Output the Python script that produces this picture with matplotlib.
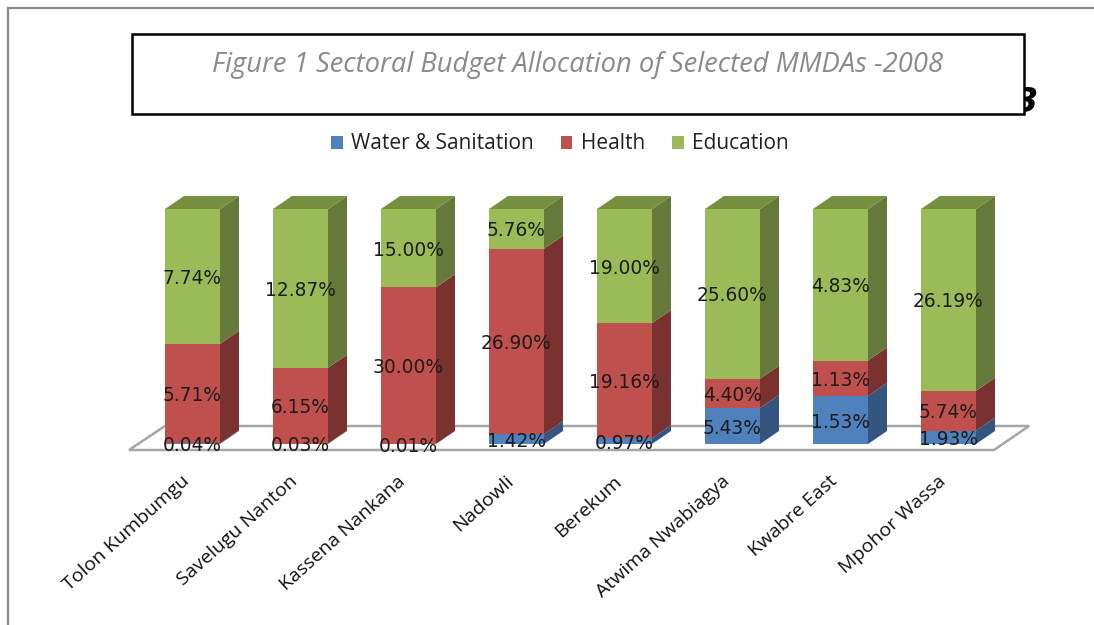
import matplotlib
matplotlib.use("Agg")
import matplotlib.pyplot as plt
from matplotlib.patches import Polygon, Rectangle
import numpy as np

categories = ["Tolon Kumbumgu", "Savelugu Nanton", "Kassena Nankana", "Nadowli",
              "Berekum", "Atwima Nwabiagya", "Kwabre East", "Mpohor Wassa"]
water = [0.04, 0.03, 0.01, 1.42, 0.97, 5.43, 1.53, 1.93]
health = [5.71, 6.15, 30.00, 26.90, 19.16, 4.40, 1.13, 5.74]
education = [7.74, 12.87, 15.00, 5.76, 19.00, 25.60, 4.83, 26.19]

series_names = ["Water & Sanitation", "Health", "Education"]
front_colors = ["#4F81BD", "#C0504D", "#9BBB59"]
side_colors = ["#33557F", "#7A3230", "#65793A"]
top_color = "#76903F"

W, H = 1094, 625
fig = plt.figure(figsize=(W / 100, H / 100), dpi=100, facecolor="white")
ax = fig.add_axes([0, 0, 1, 1])

# one category step is 108 px, 100% is 235 px tall
step, full = 108, 235
x0_px, base_px = 192.5, 444
ax.set_xlim(-x0_px / step, (W - x0_px) / step)
ax.set_ylim((base_px - H) / full * 100, base_px / full * 100)
ax.axis("off")

bar_w = 55 / step
dx, dy = 19 / step, 13 / full * 100


def px(x, y):
    return (x - x0_px) / step, (base_px - y) / full * 100


# floor of the 3d chart
floor = [px(129, 450), px(165, 426), px(1029, 426), px(994, 450)]
ax.add_patch(Polygon(floor, closed=True, fc="white", ec="#A6A6A6", lw=1.8, zorder=1))

values = np.array([water, health, education], dtype=float)
shares = values / values.sum(axis=0) * 100
xs = np.arange(len(categories))

bottom = np.zeros(len(categories))
for s in range(3):
    ax.bar(xs, shares[s], bottom=bottom, width=bar_w, color=front_colors[s], zorder=3)
    for i in xs:
        right = i + bar_w / 2
        b, t = bottom[i], bottom[i] + shares[s][i]
        ax.add_patch(Polygon([(right, b), (right + dx, b + dy), (right + dx, t + dy), (right, t)],
                             closed=True, fc=side_colors[s], ec="none", zorder=2.5))
    bottom += shares[s]

for i in xs:
    left, right = i - bar_w / 2, i + bar_w / 2
    ax.add_patch(Polygon([(left, 100), (right, 100), (right + dx, 100 + dy), (left + dx, 100 + dy)],
                         closed=True, fc=top_color, ec="none", zorder=2.5))

# value labels, centred on the front faces, a touch lower like the original
bottom = np.zeros(len(categories))
for s in range(3):
    for i in xs:
        ax.annotate(f"{values[s][i]:.2f}%", (i, bottom[i] + shares[s][i] / 2), xytext=(0, -1.5),
                    textcoords="offset points", ha="center", va="center",
                    fontsize=13.4, color="#1c1c1c", family="DejaVu Sans", zorder=5)
    bottom += shares[s]

# category labels
for i, name in enumerate(categories):
    ax.text(i - 0.105, px(0, 472)[1], name, rotation=42, rotation_mode="anchor", ha="right", va="top",
            fontsize=14, color="#111111", family="Open Sans", zorder=5)

# clipped glyph poking out behind the title box
fig.text(1027 / W, 1 - 112 / H, "3", fontsize=24, fontweight="bold", style="italic",
         color="black", ha="center", va="baseline", family="DejaVu Sans", zorder=0)

# outer frame
fig.add_artist(plt.Line2D([8 / W, 8 / W], [0, 1 - 8 / H], color="#8A8A8A", lw=1.6))
fig.add_artist(plt.Line2D([8 / W, 1], [1 - 8 / H, 1 - 8 / H], color="#8A8A8A", lw=1.6))

# title box
fig.add_artist(Rectangle((132 / W, 1 - 114 / H), 892 / W, 80 / H, transform=fig.transFigure,
                         fc="white", ec="black", lw=1.8, zorder=2))
fig.text(578 / W, 1 - 65 / H, "Figure 1 Sectoral Budget Allocation of Selected MMDAs -2008",
         ha="center", va="center", fontsize=19.75, style="italic", color="#8A8A8A",
         family="Open Sans", zorder=3)

# legend
handles = [Rectangle((0, 0), 1, 1, fc=c, ec="none") for c in front_colors]
fig.legend(handles, series_names, ncol=3, loc="center", bbox_to_anchor=(560 / W, 1 - 144 / H),
           frameon=False, handlelength=0.55, handleheight=0.6, handletextpad=0.4,
           columnspacing=1.3, prop={"family": "Open Sans", "size": 15}, labelcolor="#222222")

fig.savefig("out.png", dpi=100)
